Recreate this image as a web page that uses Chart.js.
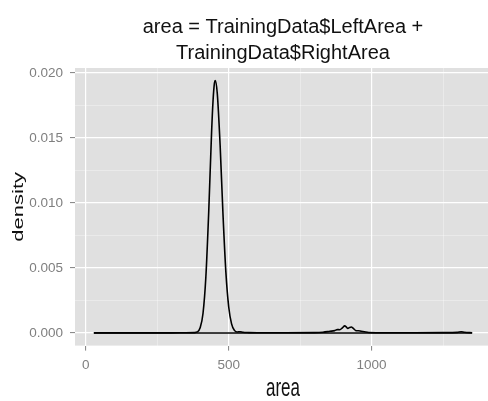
<!DOCTYPE html>
<html><head><meta charset="utf-8">
<script src="https://cdn.jsdelivr.net/npm/chart.js@4/dist/chart.umd.min.js"></script>
<style>html,body{margin:0;padding:0;background:#fff;overflow:hidden}canvas{display:block}</style>
</head><body>
<canvas id="c" width="500" height="401"></canvas>
<script>
// ---- data ----
const areaX    = [28, 100, 200, 300, 350, 380, 390, 400, 410, 420, 430, 440, 445, 450, 453, 460, 470, 480, 490, 500, 510, 520, 530, 540, 550, 570, 600, 700, 800, 830, 854, 871, 880, 889, 898, 906, 912, 917, 923, 929, 936, 944, 954, 964, 975, 990, 1050, 1150, 1250, 1300, 1314, 1325, 1352];
const densityY = [0.00001, 0.00001, 0.00001, 0.00001, 0.00002, 0.00003, 0.00008, 0.0004, 0.0015, 0.0043, 0.0093, 0.0154, 0.0178, 0.0192, 0.0194, 0.0184, 0.0144, 0.0091, 0.0047, 0.0020, 0.0007, 0.0002, 0.00008, 0.0001, 0.00005, 0.00003, 0.00002, 0.00002, 0.00003, 0.00006, 0.00013, 0.00018, 0.00026, 0.00025, 0.0004, 0.00055, 0.00045, 0.00035, 0.00042, 0.00046, 0.00035, 0.0002, 0.00017, 0.00013, 0.00009, 0.00004, 0.00002, 0.00002, 0.00003, 0.00005, 0.0001, 0.00005, 0.00002];
const baselineX = [28, 1352];
const baselineY = [0, 0];
const xMajorTicks = [0, 500, 1000];
const xMinorTicks = [250, 750, 1250];
const yMajorTicks = [0, 0.005, 0.010, 0.015, 0.020];
const yMinorTicks = [0.0025, 0.0075, 0.0125, 0.0175];
const xTickLabels = ['0', '500', '1000'];
const yTickLabels = ['0.000', '0.005', '0.010', '0.015', '0.020'];
const titleLines = ['area = TrainingData$LeftArea +', 'TrainingData$RightArea'];
const xTitle = 'area';
const yTitle = 'density';
const xRange = [-38, 1418];
const yRange = [-0.00097, 0.02037];

// ---- helpers ----
const idxOf = (list, v) => list.findIndex(m => Math.abs(m - v) < 1e-9);
const setTicks = (major, minor) => scale => {
  scale.ticks = [...major, ...minor].sort((a, b) => a - b).map(v => ({ value: v }));
};
const gridFor = (major) => ({
  color: c => (c.tick && idxOf(major, c.tick.value) >= 0) ? '#ffffff' : 'rgba(255,255,255,0.55)',
  lineWidth: c => (c.tick && idxOf(major, c.tick.value) >= 0) ? 1.2 : 0.6,
  tickColor: c => (c.tick && idxOf(major, c.tick.value) >= 0) ? '#7f7f7f' : 'rgba(0,0,0,0)',
  tickLength: 5,
  tickWidth: 1,
  drawTicks: true
});
const TICK_FONT = { family: "'Liberation Sans', Arial, sans-serif", size: 13.5 };

const panelBg = {
  id: 'panelBg',
  beforeDraw(chart) {
    const { ctx, chartArea: a } = chart;
    ctx.save();
    ctx.fillStyle = '#e0e0e0';
    ctx.fillRect(a.left, a.top, a.right - a.left, a.bottom - a.top);
    ctx.restore();
  }
};
const texts = {
  id: 'texts',
  afterDraw(chart) {
    const { ctx, chartArea: a } = chart;
    const cx = (a.left + a.right) / 2;
    const cy = (a.top + a.bottom) / 2;
    ctx.save();
    ctx.fillStyle = '#111';
    ctx.textAlign = 'center';
    ctx.textBaseline = 'alphabetic';
    ctx.font = "20px 'Liberation Sans', Arial, sans-serif";
    ctx.fillText(titleLines[0], cx, 33);
    ctx.fillText(titleLines[1], cx, 59);
    // x axis title (condensed)
    ctx.save();
    ctx.translate(cx, 396);
    ctx.scale(0.68, 1);
    ctx.font = "25px 'Liberation Sans', Arial, sans-serif";
    ctx.fillText(xTitle, 0, 0);
    ctx.restore();
    // y axis title (rotated, condensed)
    ctx.save();
    ctx.translate(22.5, cy);
    ctx.rotate(-Math.PI / 2);
    ctx.scale(1, 0.68);
    ctx.font = "22px 'Liberation Sans', Arial, sans-serif";
    ctx.fillText(yTitle, 0, 0);
    ctx.restore();
    ctx.restore();
  }
};

new Chart(document.getElementById('c'), {
  type: 'scatter',
  data: {
    datasets: [
      {
        data: areaX.map((x, i) => ({ x, y: densityY[i] })),
        showLine: true, borderColor: '#000', borderWidth: 1.6,
        pointRadius: 0, cubicInterpolationMode: 'monotone', fill: false
      },
      {
        data: baselineX.map((x, i) => ({ x, y: baselineY[i] })),
        showLine: true, borderColor: '#000', borderWidth: 1.6,
        pointRadius: 0, fill: false
      }
    ]
  },
  options: {
    responsive: false,
    animation: false,
    devicePixelRatio: 1,
    layout: { padding: { top: 68, right: 9, bottom: 0, left: 0 } },
    plugins: { legend: { display: false }, tooltip: { enabled: false }, title: { display: false } },
    scales: {
      x: {
        type: 'linear', min: xRange[0], max: xRange[1],
        afterBuildTicks: setTicks(xMajorTicks, xMinorTicks),
        afterFit: s => { s.height = 55.4; },
        grid: gridFor(xMajorTicks),
        border: { display: false },
        ticks: {
          autoSkip: false, maxRotation: 0, padding: 7, color: '#7f7f7f', font: TICK_FONT,
          callback: v => { const i = idxOf(xMajorTicks, v); return i >= 0 ? xTickLabels[i] : ''; }
        }
      },
      y: {
        type: 'linear', min: yRange[0], max: yRange[1],
        afterBuildTicks: setTicks(yMajorTicks, yMinorTicks),
        afterFit: s => { s.width = 75; },
        grid: gridFor(yMajorTicks),
        border: { display: false },
        ticks: {
          autoSkip: false, padding: 7, color: '#7f7f7f', font: TICK_FONT,
          callback: v => { const i = idxOf(yMajorTicks, v); return i >= 0 ? yTickLabels[i] : ''; }
        }
      }
    }
  },
  plugins: [panelBg, texts]
});
</script>
</body></html>
